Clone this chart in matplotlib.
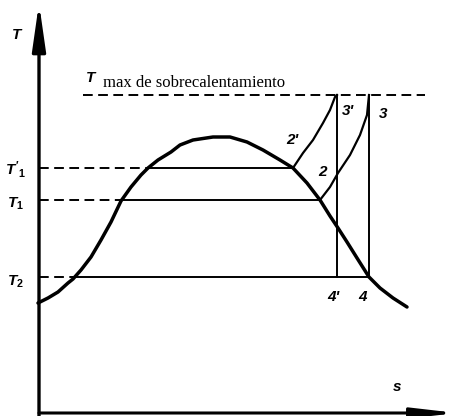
import matplotlib.pyplot as plt

# Saturation dome of the working fluid (s, T in drawing units)
dome_s = [-1, 9, 19, 29, 34, 42, 52, 62, 72, 82, 92, 102, 109, 119, 132, 141, 154,
          174, 191, 208, 224, 241, 254, 268, 281, 291, 299, 308, 318, 330, 341, 354, 368]
dome_T = [110, 115, 121, 130, 134, 143, 156, 173, 191, 212, 226, 238, 245, 253, 261, 268, 273,
          276, 276, 271, 263, 253, 245, 230, 213, 197, 185, 171, 155, 136, 125, 115, 106]

# Isotherm levels: T2, T1, T1' and the superheat limit
T2, T1, T1p, Tmax = 136, 213, 245, 318
# Where each isotherm meets the dome (left, right)
T2_s = (34, 330)
T1_s = (82, 281)
T1p_s = (109, 254)
Tmax_s = (44, 386)

# Superheating branches 2'->3' and 2->3
sup_a_s = [254, 264, 274, 284, 291, 296, 298]
sup_a_T = [245, 260, 273, 290, 303, 316, 318]
sup_b_s = [281, 291, 299, 311, 321, 328, 330]
sup_b_T = [213, 226, 240, 258, 278, 298, 318]

# Isentropic expansions 3'->4' and 3->4
s_4p, s_4 = 298, 330

plt.rcParams["mathtext.fontset"] = "custom"
plt.rcParams["mathtext.it"] = "Liberation Sans:italic:bold"
plt.rcParams["mathtext.rm"] = "Liberation Sans:bold"

fig = plt.figure(figsize=(4.51, 4.16), dpi=100)
ax = fig.add_axes([0, 0, 1, 1])
ax.set_xlim(-39, 412)
ax.set_ylim(-3, 413)
ax.axis("off")

k = "black"
thin = 1.4
dash = (0, (5, 2.8))

# axes with arrows
ax.annotate("", xy=(0, 410), xytext=(0, -3), annotation_clip=False,
            arrowprops=dict(arrowstyle="-|>,head_length=1.4,head_width=0.2",
                            lw=2.4, color=k, mutation_scale=20, shrinkA=0, shrinkB=0))
ax.annotate("", xy=(418, 0), xytext=(0, 0), annotation_clip=False,
            arrowprops=dict(arrowstyle="-|>,head_length=1.3,head_width=0.15",
                            lw=2.2, color=k, mutation_scale=20, shrinkA=0, shrinkB=0))

# dome
ax.plot(dome_s, dome_T, color=k, lw=2.5, solid_capstyle="round", solid_joinstyle="round")

# isotherms: dashed to the T axis, solid across the dome
for T, (sl, sr) in [(T2, T2_s), (T1, T1_s), (T1p, T1p_s)]:
    ax.plot([0, sl], [T, T], color=k, lw=thin, linestyle=dash)
    ax.plot([sl, sr], [T, T], color=k, lw=thin)

ax.plot(Tmax_s, [Tmax, Tmax], color=k, lw=thin, linestyle=dash)

# superheat curves and expansions
ax.plot(sup_a_s, sup_a_T, color=k, lw=thin + 0.2, solid_joinstyle="round")
ax.plot(sup_b_s, sup_b_T, color=k, lw=thin + 0.2, solid_joinstyle="round")
ax.plot([s_4p, s_4p], [Tmax, T2], color=k, lw=thin)
ax.plot([s_4, s_4], [Tmax, T2], color=k, lw=thin)

lab = dict(fontsize=11, ha="center", va="center", color=k,
           family="Liberation Sans", style="italic", weight="bold")
ax.text(-22, 378, "T", **lab)
ax.text(358, 26, "s", **lab)
ax.text(-24, T1p - 1, r"$T'_1$", fontsize=11, ha="center", va="center")
ax.text(-24, T1 - 4, r"$T_1$", fontsize=11, ha="center", va="center")
ax.text(-24, T2 - 5, r"$T_2$", fontsize=11, ha="center", va="center")
ax.text(52, 335, "T", **lab)
ax.text(64, 326, "max de sobrecalentamiento", fontsize=12, ha="left", va="baseline",
        family="Liberation Serif", color=k)

ax.text(253, 273, "2'", **lab)
ax.text(283, 241, "2", **lab)
ax.text(309, 302, "3'", **lab)
ax.text(344, 299, "3", **lab)
ax.text(294, 116, "4'", **lab)
ax.text(323, 116, "4", **lab)

fig.savefig("out.png", dpi=100)
